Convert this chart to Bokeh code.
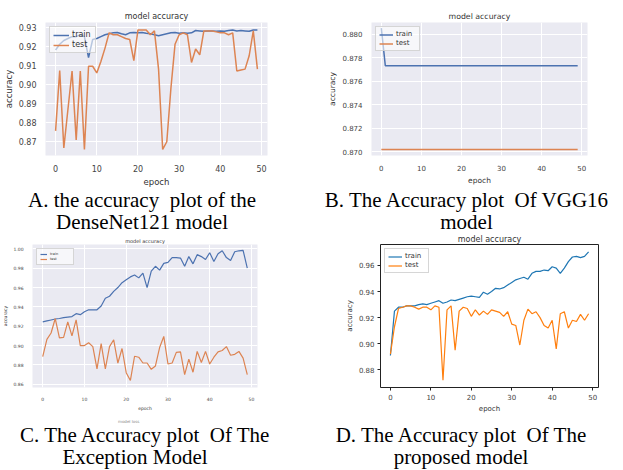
from bokeh.plotting import figure
from bokeh.layouts import column, row
from bokeh.models import Div, FixedTicker, Legend, LegendItem, Title
from bokeh.embed import file_html
from bokeh.resources import INLINE

epochs = list(range(50))

# Panel A: DenseNet121
a_train = [0.918, 0.921, 0.923, 0.924, 0.925, 0.925, 0.926, 0.925, 0.914, 0.9235,
           0.924, 0.925, 0.926, 0.9265, 0.927, 0.9272, 0.9265, 0.926, 0.927, 0.9272,
           0.927, 0.9272, 0.9268, 0.9265, 0.926, 0.9255, 0.926, 0.9265, 0.927, 0.9272,
           0.9268, 0.927, 0.9268, 0.927, 0.9282, 0.928, 0.9278, 0.928, 0.928, 0.9278,
           0.928, 0.9278, 0.9282, 0.9285, 0.928, 0.9282, 0.928, 0.9278, 0.9285, 0.9285]
a_test = [0.8757, 0.9073, 0.8668, 0.887, 0.907, 0.871, 0.907, 0.866, 0.9095, 0.9095,
          0.906, 0.912, 0.919, 0.927, 0.926, 0.926, 0.925, 0.924, 0.9235, 0.9125,
          0.9285, 0.9285, 0.9285, 0.926, 0.928, 0.908, 0.866, 0.870, 0.898, 0.921,
          0.926, 0.927, 0.926, 0.9115, 0.9185, 0.9155, 0.928, 0.928, 0.928, 0.9275,
          0.927, 0.927, 0.926, 0.927, 0.907, 0.9075, 0.908, 0.915, 0.928, 0.908]

# Panel B: VGG16
b_train = [0.8805] + [0.8773] * 49
b_test = [0.87018] * 50

# Panel C: Exception model
c_train = [0.9245, 0.9255, 0.9265, 0.9275, 0.928, 0.929, 0.9295, 0.930, 0.933, 0.932,
           0.935, 0.937, 0.937, 0.937, 0.941, 0.949, 0.951, 0.956, 0.960, 0.965,
           0.968, 0.971, 0.973, 0.970, 0.975, 0.960, 0.977, 0.982, 0.978, 0.985,
           0.986, 0.991, 0.991, 0.9905, 0.982, 0.992, 0.9845, 0.994, 0.992, 0.989,
           0.996, 0.987, 0.995, 0.998, 0.991, 0.988, 0.997, 0.998, 0.9985, 0.980]
c_test = [0.8887, 0.9065, 0.913, 0.928, 0.908, 0.9085, 0.9245, 0.910, 0.9265, 0.900,
          0.900, 0.903, 0.899, 0.876, 0.902, 0.876, 0.899, 0.906, 0.882, 0.897,
          0.872, 0.864, 0.889, 0.888, 0.882, 0.882, 0.8755, 0.879, 0.898, 0.9095,
          0.881, 0.882, 0.893, 0.8935, 0.870, 0.886, 0.8725, 0.894, 0.8825, 0.894,
          0.881, 0.888, 0.8935, 0.895, 0.899, 0.890, 0.891, 0.894, 0.887, 0.870]

# Panel D: proposed model
d_train = [0.891, 0.925, 0.928, 0.928, 0.929, 0.929, 0.929, 0.930, 0.9305, 0.930,
           0.931, 0.932, 0.933, 0.931, 0.932, 0.9335, 0.933, 0.934, 0.935, 0.936,
           0.9365, 0.936, 0.9355, 0.9395, 0.938, 0.940, 0.9425, 0.942, 0.943, 0.945,
           0.947, 0.949, 0.950, 0.951, 0.9495, 0.954, 0.9555, 0.9555, 0.9565, 0.956,
           0.959, 0.958, 0.954, 0.958, 0.963, 0.9665, 0.967, 0.966, 0.967, 0.9705]
d_test = [0.892, 0.913, 0.927, 0.928, 0.929, 0.929, 0.928, 0.9265, 0.928, 0.928,
          0.926, 0.929, 0.928, 0.872, 0.926, 0.929, 0.895, 0.925, 0.928, 0.927,
          0.921, 0.926, 0.922, 0.925, 0.9225, 0.926, 0.925, 0.924, 0.921, 0.9245,
          0.915, 0.914, 0.899, 0.918, 0.9265, 0.923, 0.9245, 0.920, 0.914, 0.912,
          0.918, 0.896, 0.923, 0.9245, 0.912, 0.918, 0.917, 0.9225, 0.918, 0.923]

x_ticks = [0, 10, 20, 30, 40, 50]
a_yticks = [0.87, 0.88, 0.89, 0.90, 0.91, 0.92, 0.93]
a_ylabels = ["0.87", "0.88", "0.89", "0.90", "0.91", "0.92", "0.93"]
b_yticks = [0.870, 0.872, 0.874, 0.876, 0.878, 0.880]
b_ylabels = ["0.870", "0.872", "0.874", "0.876", "0.878", "0.880"]
c_yticks = [0.86, 0.88, 0.90, 0.92, 0.94, 0.96, 0.98, 1.00]
c_ylabels = ["0.86", "0.88", "0.90", "0.92", "0.94", "0.96", "0.98", "1.00"]
d_yticks = [0.88, 0.90, 0.92, 0.94, 0.96]
d_ylabels = ["0.88", "0.90", "0.92", "0.94", "0.96"]

captions = [
    "A. the accuracy&nbsp; plot of the<br>DenseNet121 model",
    "B. The Accuracy plot&nbsp; Of VGG16<br>model",
    "C. The Accuracy plot&nbsp; Of The<br>Exception Model",
    "D. The Accuracy plot&nbsp; Of The<br>proposed model",
]

FONT = "DejaVu Sans"


def make_panel(w, h, borders, yr, yticks, ylabels, train, test, style, fs, valign):
    left, right, top, bottom = borders
    p = figure(width=w, height=h, output_backend="svg", toolbar_location=None,
               x_range=(-2.45, 51.45), y_range=yr,
               min_border_left=left, min_border_right=right,
               min_border_top=top, min_border_bottom=bottom, margin=0)
    tick_fs, lab_fs, title_fs, leg_fs, lw = fs
    p.title = Title(text="model accuracy", align="center", text_font=FONT,
                    text_font_size=f"{title_fs}px", text_font_style="normal",
                    text_color="#333333", standoff=1, vertical_align=valign)
    if style == "mpl":
        c1, c2 = "#1f77b4", "#ff7f0e"
        p.background_fill_color = "white"
        p.outline_line_color = "#222222"
        p.xgrid.visible = False
        p.ygrid.visible = False
        for ax in (p.xaxis, p.yaxis):
            ax.major_tick_out = 3
            ax.major_tick_in = 0
            ax.major_tick_line_color = "#222222"
    else:
        c1, c2 = "#4c72b0", "#dd8452"
        p.background_fill_color = "#eaeaf2"
        p.outline_line_color = None
        p.xgrid.grid_line_color = "white"
        p.ygrid.grid_line_color = "white"
        p.xgrid.grid_line_width = 1
        p.ygrid.grid_line_width = 1
        for ax in (p.xaxis, p.yaxis):
            ax.major_tick_line_color = None
    p.border_fill_color = "white"
    for ax in (p.xaxis, p.yaxis):
        ax.axis_line_color = None
        ax.minor_tick_line_color = None
        ax.major_label_text_font = FONT
        ax.major_label_text_font_size = f"{tick_fs}px"
        ax.major_label_text_color = "#444444"
        ax.axis_label_text_font = FONT
        ax.axis_label_text_font_size = f"{lab_fs}px"
        ax.axis_label_text_font_style = "normal"
        ax.axis_label_text_color = "#333333"
        ax.major_label_standoff = 3
        ax.axis_label_standoff = 2
    p.xaxis.ticker = FixedTicker(ticks=x_ticks)
    p.yaxis.ticker = FixedTicker(ticks=yticks)
    p.yaxis.major_label_overrides = {t: l for t, l in zip(yticks, ylabels)}
    p.xaxis.axis_label = "epoch"
    p.yaxis.axis_label = "accuracy"
    r1 = p.line(epochs, train, line_color=c1, line_width=lw)
    r2 = p.line(epochs, test, line_color=c2, line_width=lw)
    leg = Legend(items=[LegendItem(label="train", renderers=[r1]),
                        LegendItem(label="test", renderers=[r2])],
                 location="top_left", label_text_font=FONT,
                 label_text_font_size=f"{leg_fs}px", label_text_color="#333333",
                 glyph_height=max(4, int(leg_fs)), glyph_width=int(leg_fs * 2),
                 label_height=max(4, int(leg_fs)), label_standoff=3,
                 spacing=1, padding=3, margin=4,
                 background_fill_color="white", background_fill_alpha=0.6,
                 border_line_color="#cccccc", border_line_alpha=0.8)
    p.add_layout(leg)
    return p


pA = make_panel(310, 189, (45, 43, 18, 27), (0.8628, 0.9324), a_yticks, a_ylabels,
                a_train, a_test, "sns", (8, 8.5, 8, 8, 1.5), "middle")
pB = make_panel(313, 189, (61, 36, 22, 29), (0.86967, 0.88098), b_yticks, b_ylabels,
                b_train, b_test, "sns", (7, 7.5, 7.8, 7, 1.5), "middle")
pC = make_panel(310, 188, (25, 53, 8, 15), (0.8567, 1.0045), c_yticks, c_ylabels,
                c_train, c_test, "sns", (4.5, 4.5, 5, 3.5, 1.2), "bottom")
pD = make_panel(313, 188, (70, 25, 12, 33), (0.8664, 0.9761), d_yticks, d_ylabels,
                d_train, d_test, "mpl", (7, 7, 8, 7, 1.2), "bottom")


def cap(text, w, h, pad_top, pad_right, extra=""):
    style = {"font-family": "'Liberation Serif', 'Times New Roman', serif",
             "font-size": "21px", "line-height": "22px", "text-align": "center",
             "color": "black"}
    inner = (f"<div style='padding-top:{pad_top}px;padding-right:{pad_right}px;"
             f"width:{w - pad_right}px;white-space:nowrap'>{text}</div>")
    return Div(text=extra + inner, width=w, height=h, margin=0, styles=style)


loss = ("<div style='position:absolute;left:118px;top:0px;font-family:DejaVu Sans;"
        "font-size:4px;line-height:4px;color:#888'>model loss</div>")

dA = cap(captions[0], 310, 43, 0, 26)
dB = cap(captions[1], 313, 43, 0, 0)
dC = cap(captions[2], 310, 50, 4, 40, loss)
dD = cap(captions[3], 313, 50, 4, 11)

layout = column(row(pA, pB, margin=0), row(dA, dB, margin=0),
                row(pC, pD, margin=0), row(dC, dD, margin=0), margin=0)

open("out.html", "w").write(file_html(layout, INLINE))
